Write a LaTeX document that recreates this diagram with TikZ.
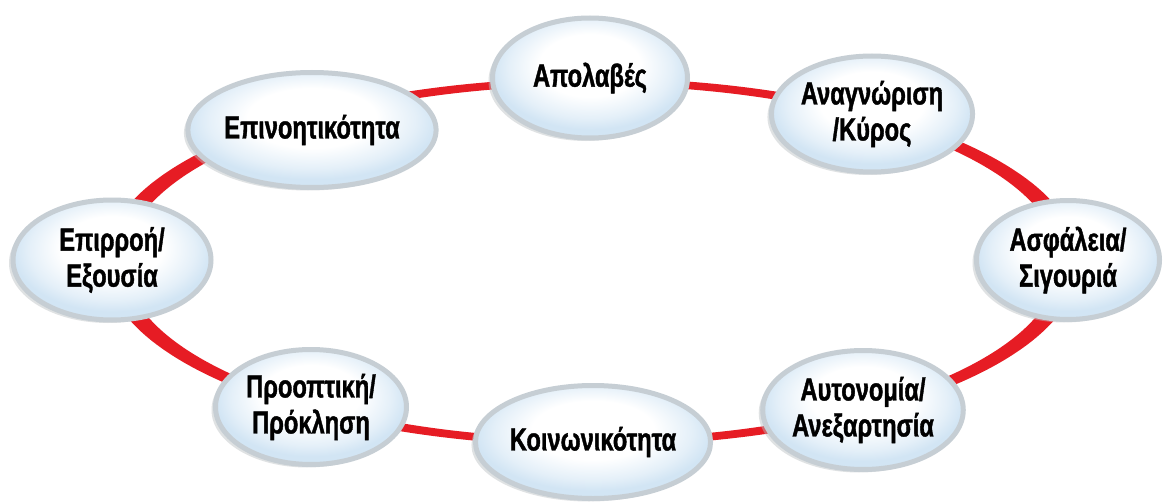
\documentclass[tikz,border=0pt]{standalone}
\usepackage{fontspec}
\setmainfont{Liberation Sans}
\newfontfamily\nodefont{Liberation Sans Bold}[FakeStretch=0.74, FakeBold=1.2]
\usetikzlibrary{shapes.geometric,shadows}
\definecolor{ringred}{RGB}{230,28,36}
\definecolor{rimgray}{RGB}{198,206,212}
\definecolor{bubbleblue}{RGB}{210,229,244}
\pgfdeclareradialshading{bubbleshade}{\pgfpoint{0bp}{7bp}}{%
  color(0bp)=(white); color(13bp)=(white); color(21bp)=(bubbleblue!60); color(25bp)=(bubbleblue); color(50bp)=(bubbleblue)}
\tikzset{
  bubble/.style={ellipse, inner sep=0pt, minimum width=193pt, minimum height=116pt,
    shading=bubbleshade, draw=rimgray, line width=5pt,
    drop shadow={shadow xshift=-4pt, shadow yshift=-3pt, fill=rimgray!85!black!80, opacity=0.45},
    font=\nodefont\fontsize{32}{36}\selectfont, align=center, text=black}
}
\begin{document}
\begin{tikzpicture}[x=1pt,y=-1pt]
\useasboundingbox (0,0) rectangle (1163,503);
\fill[white] (0,0) rectangle (1163,503);
\fill[ringred, even odd rule] (592,262) ellipse [x radius=487, y radius=184]
                              (592,262) ellipse [x radius=467, y radius=176.5];
\node[bubble, minimum width=195pt, minimum height=120pt] (apolaves) at (590,78) {Απολαβές};
\node[bubble, minimum width=187pt] (anagnorisi) at (872,114) {Αναγνώριση\\/Κύρος};
\node[bubble, minimum width=183pt, minimum height=119pt] (asfaleia) at (1068,260) {Ασφάλεια/\\Σιγουριά};
\node[bubble, minimum width=194pt, minimum height=119pt] (aftonomia) at (863,410) {Αυτονομία/\\Ανεξαρτησία};
\node[bubble, minimum width=205pt, minimum height=113pt] (koinonikotita) at (593,442) {Κοινωνικότητα};
\node[bubble, minimum width=191pt, minimum height=115pt] (prooptiki) at (311,407) {Προοπτική/\\Πρόκληση};
\node[bubble, minimum width=198pt, minimum height=120pt] (epirroi) at (112,260) {Επιρροή/\\Εξουσία};
\node[bubble, minimum width=193pt, minimum height=115pt] (epinoitikotita) at (312,130) {Επινοητικότητα};
\end{tikzpicture}
\end{document}
